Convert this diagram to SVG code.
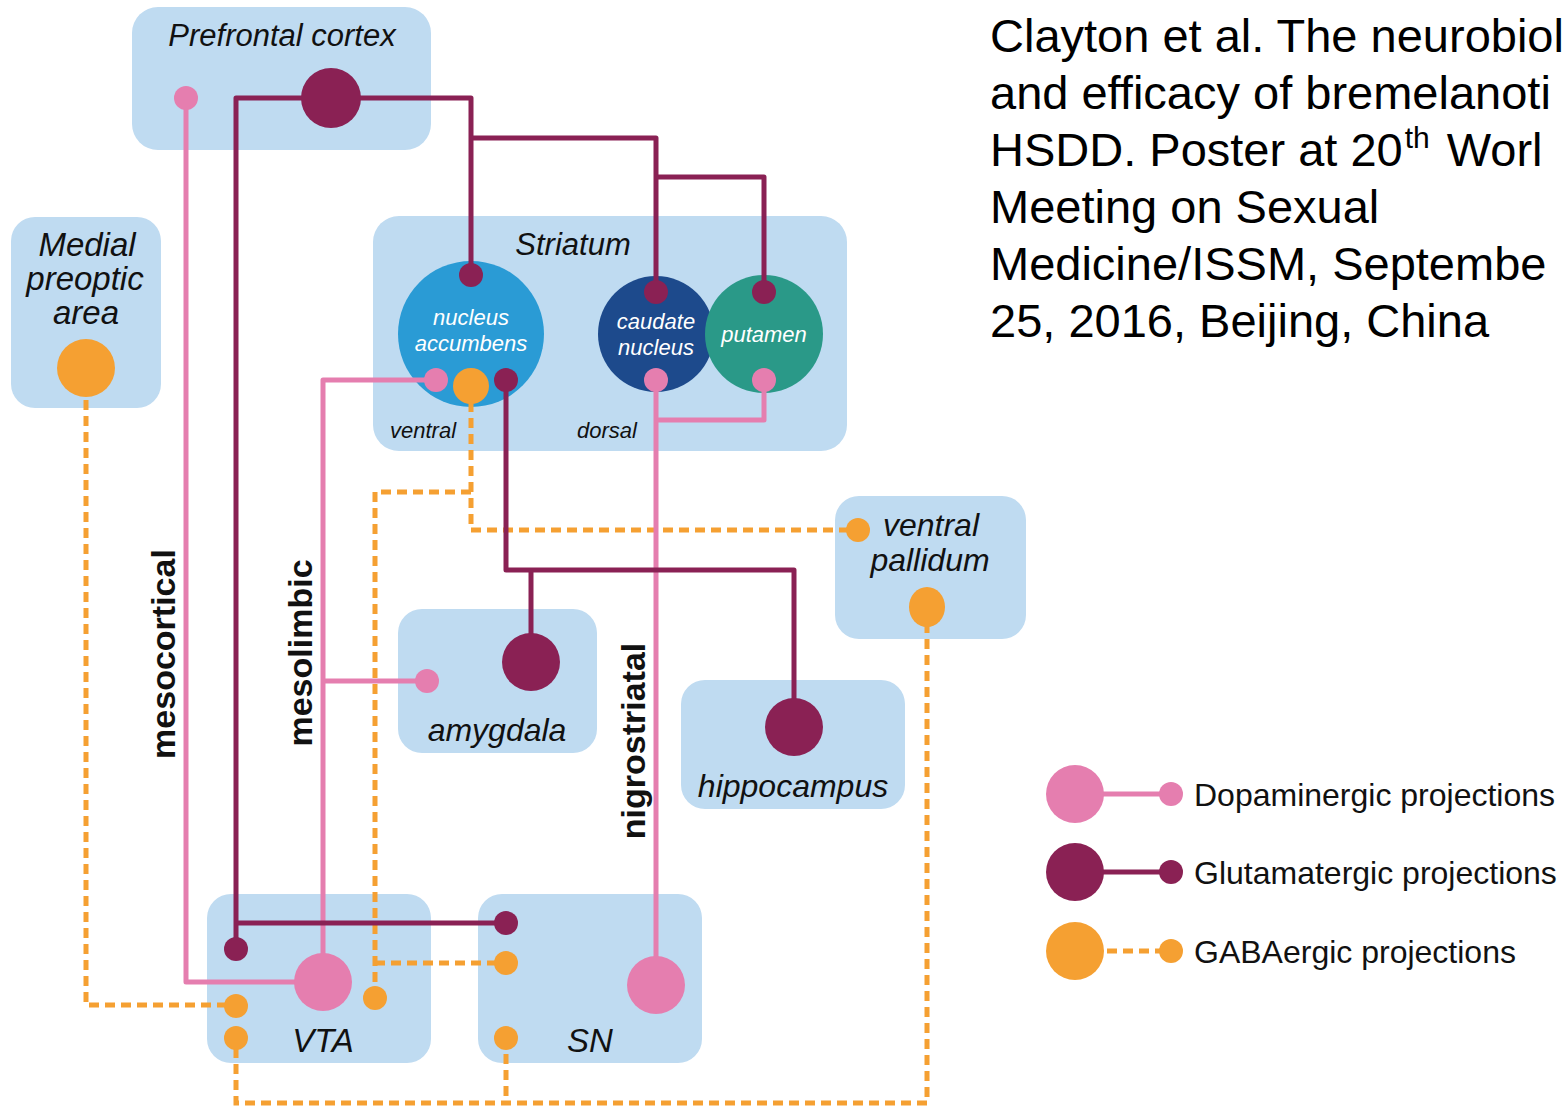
<svg xmlns="http://www.w3.org/2000/svg" width="1568" height="1106" viewBox="0 0 1568 1106">
<style>
.box{fill:#bfdbf1}
.lbl{font-family:"Liberation Sans",Arial,sans-serif;font-style:italic;fill:#111}
.wl{font-family:"Liberation Sans",Arial,sans-serif;font-style:italic;fill:#fff;font-size:22px;text-anchor:middle}
.vt{font-family:"Liberation Sans",Arial,sans-serif;font-weight:bold;font-size:34px;fill:#111;text-anchor:middle}
.da{fill:none;stroke:#e57eaf;stroke-width:5;stroke-linejoin:round}
.gl{fill:none;stroke:#8a2154;stroke-width:5;stroke-linejoin:round}
.ga{fill:none;stroke:#f5a032;stroke-width:5;stroke-dasharray:10 6}
.pd{fill:#e57eaf}
.gd{fill:#8a2154}
.od{fill:#f5a032}
.ref{font-family:"Liberation Sans",Arial,sans-serif;font-size:47px;fill:#000}
.leg{font-family:"Liberation Sans",Arial,sans-serif;font-size:32px;fill:#111}
</style>
<rect width="1568" height="1106" fill="#fff"/>

<g id="prefrontal-cortex">
<rect class="box" x="132" y="7" width="299" height="143" rx="26"/>
<text class="lbl" x="282" y="46" font-size="31" text-anchor="middle">Prefrontal cortex</text>
</g>
<g id="medial-preoptic-area">
<rect class="box" x="11" y="217" width="150" height="191" rx="24"/>
<text class="lbl" font-size="33" text-anchor="middle"><tspan x="87" y="256">Medial</tspan><tspan x="85" y="290">preoptic</tspan><tspan x="86" y="324">area</tspan></text>
</g>
<g id="striatum">
<rect class="box" x="373" y="216" width="474" height="235" rx="26"/>
<text class="lbl" x="573" y="255" font-size="31" text-anchor="middle">Striatum</text>
<text class="lbl" x="390" y="438" font-size="22">ventral</text>
<text class="lbl" x="577" y="438" font-size="22">dorsal</text>
</g>
<g id="nucleus-accumbens">
<circle cx="471" cy="334" r="73" fill="#2a9bd5"/>
<text class="wl"><tspan x="471" y="325">nucleus</tspan><tspan x="471" y="351">accumbens</tspan></text>
</g>
<g id="caudate-nucleus">
<circle cx="656" cy="334" r="58" fill="#1d4a8c"/>
<text class="wl"><tspan x="656" y="329">caudate</tspan><tspan x="656" y="355">nucleus</tspan></text>
</g>
<g id="putamen">
<circle cx="764" cy="334" r="59" fill="#2a9988"/>
<text class="wl" x="764" y="342">putamen</text>
</g>
<g id="ventral-pallidum">
<rect class="box" x="835" y="496" width="191" height="143" rx="24"/>
<text class="lbl" font-size="32" text-anchor="middle"><tspan x="931" y="536">ventral</tspan><tspan x="930" y="571">pallidum</tspan></text>
</g>
<g id="amygdala">
<rect class="box" x="398" y="609" width="199" height="144" rx="24"/>
<text class="lbl" x="497" y="741" font-size="32" text-anchor="middle">amygdala</text>
</g>
<g id="hippocampus">
<rect class="box" x="681" y="680" width="224" height="129" rx="24"/>
<text class="lbl" x="793" y="797" font-size="32" text-anchor="middle">hippocampus</text>
</g>
<g id="vta">
<rect class="box" x="207" y="894" width="224" height="169" rx="24"/>
<text class="lbl" x="323" y="1052" font-size="33" text-anchor="middle">VTA</text>
</g>
<g id="sn">
<rect class="box" x="478" y="894" width="224" height="169" rx="24"/>
<text class="lbl" x="590" y="1052" font-size="33" text-anchor="middle">SN</text>
</g>

<g id="connectors">
<path class="ga" d="M86 368 V1005 H236"/>
<path class="ga" d="M471 386 V530 H858"/>
<path class="ga" d="M471 492 H375 V998"/>
<path class="ga" d="M375 963 H506"/>
<path class="ga" d="M927 607 V1103 H236 V1038"/>
<path class="ga" d="M506 1038 V1103"/>
<path class="da" d="M186 98 V982 H323"/>
<path class="da" d="M323 982 V380 H436"/>
<path class="da" d="M323 681 H427"/>
<path class="da" d="M656 985 V380"/>
<path class="da" d="M656 420 H764 V380"/>
<path class="gl" d="M236 949 V98 H471 V275"/>
<path class="gl" d="M471 138 H656 V292"/>
<path class="gl" d="M656 177 H764 V292"/>
<path class="gl" d="M236 923 H506"/>
<path class="gl" d="M506 380 V570 H794 V727"/>
<path class="gl" d="M531 570 V662"/>
</g>

<g id="terminals">
<circle class="gd" cx="331" cy="98" r="30"/>
<circle class="pd" cx="186" cy="98" r="12"/>
<circle class="od" cx="86" cy="368" r="29"/>
<circle class="gd" cx="471" cy="275" r="12"/>
<circle class="gd" cx="656" cy="292" r="12"/>
<circle class="gd" cx="764" cy="292" r="12"/>
<circle class="pd" cx="436" cy="380" r="12"/>
<circle class="od" cx="471" cy="386" r="18"/>
<circle class="gd" cx="506" cy="380" r="12"/>
<circle class="pd" cx="656" cy="380" r="12"/>
<circle class="pd" cx="764" cy="380" r="12"/>
<circle class="od" cx="858" cy="530" r="12"/>
<ellipse class="od" cx="927" cy="607" rx="18" ry="20"/>
<circle class="gd" cx="531" cy="662" r="29"/>
<circle class="pd" cx="427" cy="681" r="12"/>
<circle class="gd" cx="794" cy="727" r="29"/>
<circle class="gd" cx="236" cy="949" r="12"/>
<circle class="pd" cx="323" cy="982" r="29"/>
<circle class="od" cx="375" cy="998" r="12"/>
<circle class="od" cx="236" cy="1006" r="12"/>
<circle class="od" cx="236" cy="1038" r="12"/>
<circle class="gd" cx="506" cy="923" r="12"/>
<circle class="od" cx="506" cy="963" r="12"/>
<circle class="pd" cx="656" cy="985" r="29"/>
<circle class="od" cx="506" cy="1038" r="12"/>
</g>

<g id="pathway-labels">
<text class="vt" transform="translate(175 654) rotate(-90)">mesocortical</text>
<text class="vt" transform="translate(312 653) rotate(-90)">mesolimbic</text>
<text class="vt" transform="translate(645 741) rotate(-90)">nigrostriatal</text>
</g>

<g id="legend">
<line class="da" x1="1075" y1="794" x2="1171" y2="794"/>
<circle class="pd" cx="1075" cy="794" r="29"/>
<circle class="pd" cx="1171" cy="794" r="12"/>
<text class="leg" x="1194" y="806">Dopaminergic projections</text>
<line class="gl" x1="1075" y1="872" x2="1171" y2="872"/>
<circle class="gd" cx="1075" cy="872" r="29"/>
<circle class="gd" cx="1171" cy="872" r="12"/>
<text class="leg" x="1194" y="884">Glutamatergic projections</text>
<line class="ga" x1="1075" y1="951" x2="1171" y2="951" stroke-dasharray="9 5"/>
<circle class="od" cx="1075" cy="951" r="29"/>
<circle class="od" cx="1171" cy="951" r="12"/>
<text class="leg" x="1194" y="963">GABAergic projections</text>
</g>

<g id="reference">
<text class="ref"><tspan x="990" y="52">Clayton et al. The neurobiol</tspan><tspan x="990" y="109">and efficacy of bremelanoti</tspan><tspan x="990" y="166">HSDD. Poster at 20<tspan font-size="30" dx="2" dy="-18">th</tspan><tspan dx="4" dy="18"> Worl</tspan></tspan><tspan x="990" y="223">Meeting on Sexual</tspan><tspan x="990" y="280">Medicine/ISSM, Septembe</tspan><tspan x="990" y="337">25, 2016, Beijing, China</tspan></text>
</g>
</svg>
